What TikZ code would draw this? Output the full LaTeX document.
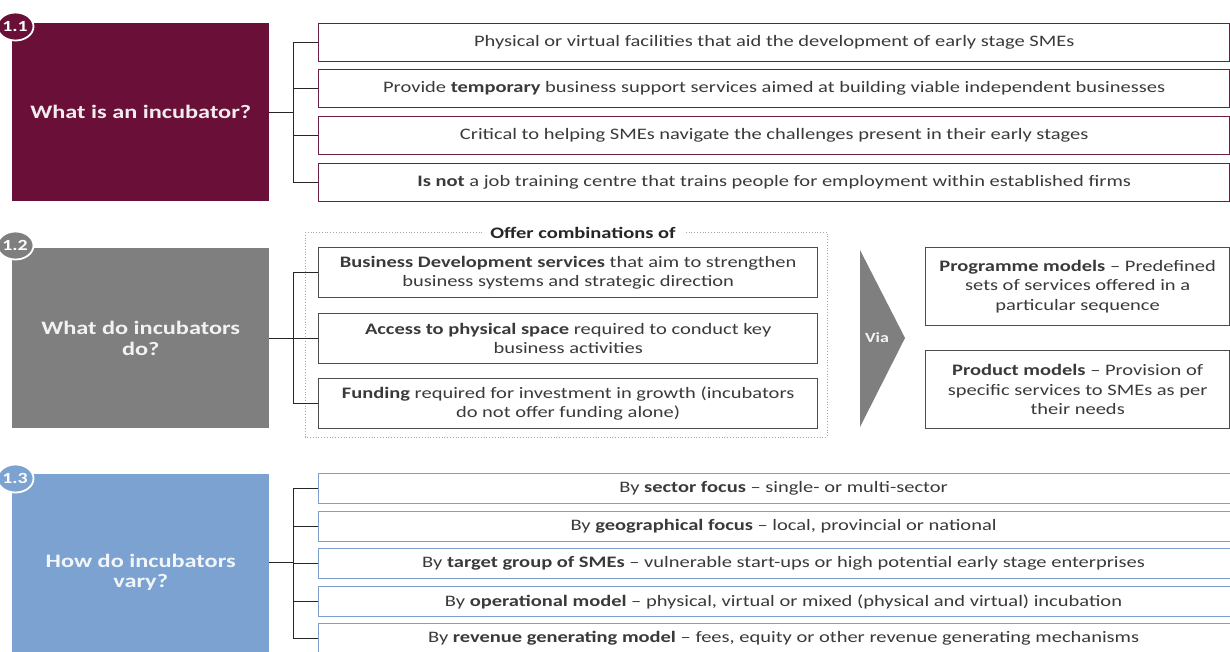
\documentclass[tikz,border=0pt]{standalone}
\usepackage{fontspec}
\setmainfont{Carlito}[FakeStretch=1.28]
\usetikzlibrary{calc,shapes.geometric}
\definecolor{wine}{HTML}{6A1038}
\definecolor{wineline}{HTML}{6E1E44}
\definecolor{slate}{HTML}{7F7F7F}
\definecolor{sky}{HTML}{7BA2D0}
\definecolor{skyline}{HTML}{7E9FCB}
\definecolor{bodytext}{HTML}{3A3A3A}
\tikzset{
  titlebox/.style={anchor=north west, inner sep=0pt, align=center,
    font=\fontsize{19}{20.5}\selectfont\bfseries},
  itembox/.style={anchor=north west, draw, line width=1.4pt, fill=white,
    inner sep=0pt, align=center, text=bodytext,
    font=\fontsize{16}{19.5}\selectfont},
  badge/.style={ellipse, draw=white, line width=1.8pt, minimum width=36pt,
    minimum height=28pt, inner sep=0pt},
  badgetext/.style={text=white, font=\fontsize{15.5}{17}\selectfont\bfseries},
  conn/.style={draw=black!85, line width=1pt},
}
\begin{document}
\begin{tikzpicture}[x=1pt,y=-1pt]
\useasboundingbox (0,0) rectangle (1230,651);
\clip (0,0) rectangle (1230,651);
\fill[white] (0,0) rectangle (1230,651);

% ---------- 1: what is an incubator ----------
\node[titlebox, fill=wine, text=white!92!wine, minimum width=257pt, minimum height=178pt]
  (t1) at (12,23) {What is an incubator?};
\node[badge, fill=wine] (c1) at (15.5,26.5) {};
\node[badgetext] (n1) at (15,26.5) {1.1};

\begin{scope}[every node/.style={itembox, draw=wineline, minimum width=911pt, minimum height=38pt}]
\node (a1) at (318,23)  {Physical or virtual facilities that aid the development of early stage SMEs};
\node (a2) at (318,69)  {Provide \textbf{temporary} business support services aimed at building viable independent businesses};
\node (a3) at (318,116) {Critical to helping SMEs navigate the challenges present in their early stages};
\node (a4) at (318,163) {\textbf{Is not} a job training centre that trains people for employment within established firms};
\end{scope}
\coordinate (s1) at (293,112);
\draw[conn] (t1.east |- s1) -- (s1);
\foreach \b in {a1,a2,a3,a4} \draw[conn] (s1) |- (\b.west);

% ---------- 2: what do incubators do ----------
\node[titlebox, fill=slate, text=white!90!slate, minimum width=257pt, minimum height=180pt]
  (t2) at (12,248) {What do incubators\\do?};
\node[badge, fill=slate] (c2) at (15.5,245.5) {};
\node[badgetext] (n2) at (15,245.5) {1.2};

\draw[draw=black!35, dotted, line width=0.8pt] (305,232) rectangle (827,437);
\node[fill=white, inner xsep=8pt, inner ysep=1pt, text=black!85,
  font=\fontsize{16}{19}\selectfont\bfseries] (oc) at (583,233) {Offer combinations of};

\begin{scope}[every node/.style={itembox, draw=black!70, line width=1.3pt, minimum width=499pt, minimum height=50pt}]
\node (d1) at (318,247) {\textbf{Business Development services} that aim to strengthen\\business systems and strategic direction};
\node (d2) at (318,313) {\textbf{Access to physical space} required to conduct key\\business activities};
\node (d3) at (318,378) {\textbf{Funding} required for investment in growth (incubators\\do not offer funding alone)};
\end{scope}
\coordinate (s2) at (293,338);
\draw[conn] (t2.east |- s2) -- (s2);
\foreach \b in {d1,d2,d3} \draw[conn] (s2) |- (\b.west);

% the "Via" chevron and the two model boxes
\fill[slate] (860,250) -- (905,338) -- (860,427) -- cycle;
\node[text=white!92!slate, font=\fontsize{14}{16}\selectfont\bfseries] (via) at (877,338) {Via};
\begin{scope}[every node/.style={itembox, draw=black!70, line width=1.3pt, minimum width=304pt, minimum height=78pt}]
\node (m1) at (925,247) {\textbf{Programme models} -- Predefined\\sets of services offered in a\\particular sequence};
\node (m2) at (925,350) {\textbf{Product models} -- Provision of\\specific services to SMEs as per\\their needs};
\end{scope}

% ---------- 3: how do incubators vary ----------
\node[titlebox, fill=sky, text=white!90!sky, minimum width=257pt, minimum height=196pt]
  (t3) at (12,474) {How do incubators\\vary?};
\node[badge, fill=sky] (c3) at (15.5,478.5) {};
\node[badgetext] (n3) at (15,478.5) {1.3};

\begin{scope}[every node/.style={itembox, draw=skyline, line width=1.1pt, minimum width=930pt, minimum height=30pt}]
\node (v1) at (318,473) {By \textbf{sector focus} -- single- or multi-sector};
\node (v2) at (318,511) {By \textbf{geographical focus} -- local, provincial or national};
\node (v3) at (318,548) {By \textbf{target group of SMEs} -- vulnerable start-ups or high potential early stage enterprises};
\node (v4) at (318,586) {By \textbf{operational model} -- physical, virtual or mixed (physical and virtual) incubation};
\node (v5) at (318,623) {By \textbf{revenue generating model} -- fees, equity or other revenue generating mechanisms};
\end{scope}
\coordinate (s3) at (293,562);
\draw[conn] (t3.east |- s3) -- (s3);
\foreach \b in {v1,v2,v3,v4,v5} \draw[conn] (s3) |- (\b.west);
\end{tikzpicture}
\end{document}
